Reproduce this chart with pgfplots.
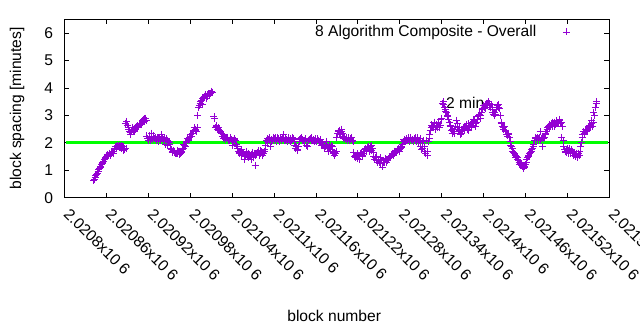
\documentclass[border=0pt]{standalone}
\usepackage{fontspec}
\setmainfont{Liberation Sans}
\usepackage{pgfplots}
\pgfplotsset{compat=1.18}
\definecolor{gpviolet}{HTML}{9400D3}
\definecolor{gpgreen}{HTML}{00FF00}
\begin{document}
\begin{tikzpicture}
\useasboundingbox (-64.5pt,-132.3pt) rectangle (575.5pt,197.7pt);
% x values: block number minus 2020800
\begin{axis}[
  at={(0pt,0pt)}, anchor=south west,
  scale only axis, width=544.8pt, height=178.4pt,
  xmin=0, xmax=780, ymin=0, ymax=6.5,
  xtick={0,60,120,180,240,300,360,420,480,540,600,660,720,780},
  xticklabels={2.0208x10 6,2.02086x10 6,2.02092x10 6,2.02098x10 6,2.02104x10 6,2.0211x10 6,2.02116x10 6,2.02122x10 6,2.02128x10 6,2.02134x10 6,2.0214x10 6,2.02146x10 6,2.02152x10 6,2.02158x10 6},
  ytick={0,1,2,3,4,5,6},
  tick align=inside, major tick length=5pt,
  axis line style={line width=0.8pt}, tick style={line width=0.8pt, black},
  /pgf/number format/assume math mode=true,
  tick label style={font=\fontsize{15.6}{18}\selectfont},
  xticklabel style={rotate=-45, anchor=west, inner sep=0pt, xshift=11pt, yshift=-8pt},
  yticklabel style={xshift=-8pt},
  label style={font=\fontsize{15.6}{18}\selectfont},
  xlabel={block number},
  ylabel={block spacing [minutes]},
  xlabel style={at={(axis description cs:0.495,-0.661)}, anchor=center},
  ylabel style={at={(axis description cs:-0.087,0.5)}, anchor=center},
  legend plot pos=right,
  legend cell align=right,
  legend style={draw=none, fill=none, inner sep=0pt, font=\fontsize{15.6}{18}\selectfont,
    at={(rel axis cs:0.938,0.929)}, anchor=east},
  legend image code/.code={\path (0cm,0cm) (1.27cm,0cm);\draw[mark repeat=2,mark phase=2,#1] plot coordinates {(0cm,0cm) (0.97cm,0cm) (1.27cm,0cm)};},
]
\addplot[only marks, mark=+, mark size=3.5pt, color=gpviolet, line width=0.9pt] coordinates {
(42,0.62) (44,0.72) (46,0.85) (48,0.95) (50,1.08) (52,1.15) (54,1.25) (56,1.33) (58,1.42) (60,1.52)
(62,1.58) (64,1.6) (66,1.55) (68,1.65) (70,1.62) (72,1.78) (74,1.85) (76,1.9) (78,1.82) (80,1.88)
(82,1.92) (84,1.85) (86,1.75) (87,2.72) (88,1.8) (89,2.78) (90,2.65) (91,2.55) (93,2.42) (95,2.3)
(97,2.5) (99,2.45) (101,2.55) (103,2.6) (105,2.55) (107,2.65) (109,2.7) (111,2.75) (113,2.85) (115,2.88)
(117,2.82) (119,2.15) (121,2.2) (123,2.1) (125,2.35) (127,2.2) (129,2.15) (131,2.1) (133,2.2) (135,2.05)
(137,2.12) (139,2.3) (141,2.08) (143,2.15) (145,1.95) (147,2.1) (149,2.05) (151,1.95) (153,1.75) (155,1.7)
(157,1.65) (159,1.6) (161,1.72) (163,1.68) (165,1.58) (167,1.65) (169,1.75) (171,1.95) (173,1.85) (175,2.05)
(177,2.1) (179,2.2) (181,2.3) (183,2.35) (185,2.45) (187,2.5) (189,2.4) (191,3.0) (193,3.35) (195,3.5)
(197,3.4) (199,3.65) (201,3.7) (203,3.62) (205,3.75) (207,3.72) (209,3.8) (211,3.88) (212,3.85) (214,2.95)
(215,2.9) (217,2.6) (219,2.5) (221,2.55) (223,2.4) (225,2.35) (227,2.3) (229,2.2) (231,2.15) (233,2.2)
(235,2.1) (237,2.18) (239,2.12) (241,1.9) (243,2.15) (245,2.1) (247,1.85) (249,1.7) (251,1.65) (253,1.75)
(255,1.6) (257,1.38) (259,1.55) (261,1.62) (263,1.48) (265,1.55) (267,1.4) (269,1.65) (271,1.52) (273,1.18)
(275,1.6) (277,1.68) (279,1.55) (281,1.72) (283,1.65) (285,1.6) (287,1.75) (289,2.1) (291,2.15) (293,2.08)
(295,1.85) (297,2.12) (299,2.18) (301,2.1) (303,2.05) (305,2.2) (307,2.12) (309,2.15) (311,2.08) (313,2.3)
(315,2.1) (317,2.18) (319,2.05) (321,2.12) (323,2.15) (325,2.1) (327,2.2) (329,2.05) (331,1.8) (333,1.75)
(335,1.85) (337,2.12) (339,2.2) (341,2.1) (343,2.05) (345,2.15) (347,1.92) (349,2.1) (351,2.12) (353,2.2)
(355,2.08) (357,2.1) (359,2.15) (361,2.05) (363,2.1) (365,2.0) (367,2.12) (369,1.95) (371,1.9) (373,1.85)
(375,2.05) (377,1.8) (379,1.95) (381,1.75) (383,1.85) (385,1.6) (387,1.55) (389,1.7) (391,2.35) (393,2.45)
(395,2.3) (397,2.4) (399,2.25) (401,2.2) (403,2.15) (405,2.1) (407,2.18) (409,2.12) (411,2.2) (413,2.05)
(415,1.5) (417,1.45) (419,1.6) (421,1.55) (423,1.4) (425,1.65) (427,1.5) (429,1.7) (431,1.8) (433,1.75)
(435,1.85) (437,1.7) (439,1.9) (441,1.78) (443,1.5) (445,1.45) (447,1.35) (449,1.4) (451,1.3) (453,1.45)
(455,1.12) (457,1.35) (459,1.42) (461,1.3) (463,1.38) (465,1.45) (467,1.5) (469,1.6) (471,1.55) (473,1.7)
(475,1.65) (477,1.75) (479,1.68) (481,1.8) (483,1.85) (485,2.05) (487,2.1) (489,2.15) (491,2.08) (493,2.12)
(495,2.2) (497,2.1) (499,2.05) (501,2.15) (503,2.1) (505,2.18) (507,2.0) (509,1.85) (511,1.75) (513,1.8)
(515,1.7) (517,1.62) (519,1.55) (521,2.05) (523,2.3) (525,2.55) (527,2.6) (529,2.75) (531,2.5) (533,2.65)
(535,2.7) (537,2.55) (539,2.85) (541,3.45) (543,3.5) (545,3.2) (547,3.1) (549,3.0) (551,2.75) (553,2.6)
(555,2.35) (557,2.4) (559,2.5) (561,2.82) (563,2.55) (565,2.45) (567,2.3) (569,2.4) (571,2.55) (573,2.45)
(575,2.6) (577,2.5) (579,2.7) (581,2.65) (583,2.55) (585,2.75) (587,2.8) (589,2.6) (591,2.85) (593,3.0)
(595,2.9) (597,3.1) (599,3.25) (601,3.3) (603,3.4) (605,3.45) (607,3.5) (609,3.35) (611,3.4) (613,3.1)
(615,3.0) (617,3.05) (619,3.3) (621,3.4) (623,3.25) (625,2.75) (627,2.6) (629,2.5) (631,2.45) (633,2.3)
(635,2.35) (637,2.2) (639,1.9) (641,1.8) (643,1.65) (645,1.55) (647,1.5) (649,1.4) (651,1.3) (653,1.25)
(655,1.18) (657,1.08) (659,1.15) (661,1.3) (663,1.45) (665,1.55) (667,1.65) (669,1.75) (671,1.85) (673,2.1)
(675,2.15) (677,2.2) (679,2.1) (681,2.4) (683,2.15) (685,1.85) (687,2.2) (689,2.35) (691,2.5) (693,2.6)
(695,2.55) (697,2.7) (699,2.6) (701,2.75) (703,2.65) (705,2.8) (707,2.7) (709,2.85) (711,2.75) (712,2.2)
(713,2.6) (715,1.85) (717,1.7) (719,1.75) (721,1.6) (723,1.8) (725,1.65) (727,1.7) (729,1.55) (731,1.5)
(733,1.6) (735,1.45) (737,1.55) (739,1.85) (741,2.2) (743,2.4) (745,2.3) (747,2.45) (749,2.5) (751,2.6)
(753,2.55) (755,2.8) (757,2.75) (758,3.1) (759,3.0) (760,3.3) (761,3.45) (762,3.5)
(43,0.68) (45,0.8) (47,0.88) (49,1.02) (51,1.12) (53,1.2) (55,1.3) (57,1.38) (59,1.48) (61,1.55)
(63,1.52) (65,1.62) (67,1.6) (69,1.7) (71,1.75) (73,1.88) (75,1.8) (77,1.85) (79,1.9) (81,1.8)
(83,1.88) (85,1.72) (92,2.5) (94,2.38) (96,2.45) (98,2.55) (100,2.4) (102,2.5) (104,2.62) (106,2.58)
(108,2.7) (110,2.68) (112,2.8) (114,2.78) (116,2.9) (118,2.25) (120,2.1) (122,2.25) (124,2.15) (126,2.12)
(128,2.25) (130,2.18) (132,2.08) (134,2.15) (136,2.2) (138,2.1) (140,2.18) (142,2.12) (144,2.05) (146,2.15)
(148,1.9) (150,2.0) (152,1.8) (154,1.65) (156,1.72) (158,1.68) (160,1.62) (162,1.6) (164,1.7) (166,1.62)
(168,1.7) (170,1.8) (172,1.9) (174,2.0) (176,2.15) (178,2.12) (180,2.25) (182,2.25) (184,2.4) (186,2.55)
(188,2.45) (190,2.55) (192,3.3) (194,3.45) (196,3.55) (198,3.6) (200,3.68) (202,3.75) (204,3.7) (206,3.8)
(208,3.78) (210,3.85) (216,2.55) (218,2.62) (220,2.48) (222,2.45) (224,2.38) (226,2.25) (228,2.15) (230,2.12)
(232,2.2) (234,2.15) (236,2.1) (238,2.2) (240,2.05) (242,2.1) (244,2.12) (246,1.95) (248,1.78) (250,1.62)
(252,1.7) (254,1.55) (256,1.65) (258,1.5) (260,1.68) (262,1.55) (264,1.62) (266,1.5) (268,1.58) (270,1.45)
(272,1.6) (274,1.55) (276,1.65) (278,1.72) (280,1.6) (282,1.68) (284,1.55) (286,1.7) (288,1.9) (290,2.05)
(292,2.12) (294,2.18) (296,2.05) (298,2.1) (300,2.15) (302,2.2) (304,2.1) (306,2.15) (308,2.05) (310,2.12)
(312,2.18) (314,2.15) (316,2.08) (318,2.12) (320,2.2) (322,2.08) (324,2.05) (326,2.12) (328,2.15) (330,1.9)
(332,1.85) (334,1.72) (336,2.05) (338,2.15) (340,2.12) (342,2.08) (344,2.1) (346,2.05) (348,1.85) (350,2.12)
(352,2.15) (354,2.1) (356,2.12) (358,2.05) (360,2.1) (362,2.15) (364,2.08) (366,2.05) (368,1.9) (370,2.0)
(372,1.8) (374,1.95) (376,1.88) (378,1.7) (380,1.82) (382,1.9) (384,1.7) (386,1.65) (388,1.6) (390,2.2)
(392,2.4) (394,2.3) (396,2.5) (398,2.35) (400,2.15) (402,2.12) (404,2.2) (406,2.15) (408,2.08) (410,2.15)
(412,2.1) (414,1.65) (416,1.55) (418,1.5) (420,1.42) (422,1.5) (424,1.6) (426,1.55) (428,1.62) (430,1.75)
(432,1.7) (434,1.82) (436,1.78) (438,1.85) (440,1.72) (442,1.65) (444,1.4) (446,1.5) (448,1.3) (450,1.38)
(452,1.25) (454,1.35) (456,1.3) (458,1.28) (460,1.4) (462,1.35) (464,1.42) (466,1.5) (468,1.55) (470,1.62)
(472,1.6) (474,1.68) (476,1.72) (478,1.8) (480,1.75) (482,1.82) (484,1.95) (486,2.12) (488,2.08) (490,2.1)
(492,2.18) (494,2.05) (496,2.15) (498,2.12) (500,2.08) (502,2.2) (504,2.05) (506,2.12) (508,2.1) (510,2.15)
(512,2.05) (514,2.1) (516,1.85) (518,2.1) (520,1.7) (522,2.15) (524,2.45) (526,2.65) (528,2.55) (530,2.7)
(532,2.6) (534,2.55) (536,2.75) (538,2.65) (540,2.9) (542,3.4) (544,3.3) (546,3.15) (548,2.95) (550,2.85)
(552,2.65) (554,2.45) (556,2.5) (558,2.35) (560,2.6) (562,2.7) (564,2.4) (566,2.55) (568,2.35) (570,2.5)
(572,2.6) (574,2.55) (576,2.65) (578,2.45) (580,2.55) (582,2.75) (584,2.65) (586,2.85) (588,2.7) (590,2.75)
(592,2.95) (594,3.05) (596,3.0) (598,3.2) (600,3.35) (602,3.25) (604,3.45) (606,3.4) (608,3.42) (610,3.3)
(612,3.2) (614,3.05) (616,3.1) (618,3.2) (620,3.35) (622,3.3) (624,3.0) (626,2.7) (628,2.55) (630,2.6)
(632,2.4) (634,2.25) (636,2.3) (638,2.05) (640,1.85) (642,1.7) (644,1.6) (646,1.45) (648,1.45) (650,1.35)
(652,1.2) (654,1.22) (656,1.12) (658,1.12) (660,1.2) (662,1.38) (664,1.5) (666,1.6) (668,1.7) (670,1.8)
(672,1.95) (674,2.2) (676,2.1) (678,2.15) (680,2.2) (682,2.1) (684,2.2) (686,2.15) (688,2.3) (690,2.4)
(692,2.55) (694,2.65) (696,2.6) (698,2.75) (700,2.7) (702,2.6) (704,2.72) (706,2.75) (708,2.8) (710,2.7)
(714,2.1) (716,1.75) (718,1.65) (720,1.8) (722,1.72) (724,1.6) (726,1.75) (728,1.62) (730,1.6) (732,1.55)
(734,1.5) (736,1.62) (738,1.7) (740,2.0) (742,2.3) (744,2.35) (746,2.5) (748,2.4) (750,2.55) (752,2.65)
(754,2.7) (756,2.6)
};
\addlegendentry{8 Algorithm Composite - Overall}
\addplot[no marks, color=gpgreen, line width=3.3pt, forget plot] coordinates {(2,2) (778,2)};
\node[anchor=west, inner sep=0pt, font=\fontsize{15.6}{18}\selectfont] at (axis cs:546,3.47) {2 min};
\end{axis}
\end{tikzpicture}
\end{document}
